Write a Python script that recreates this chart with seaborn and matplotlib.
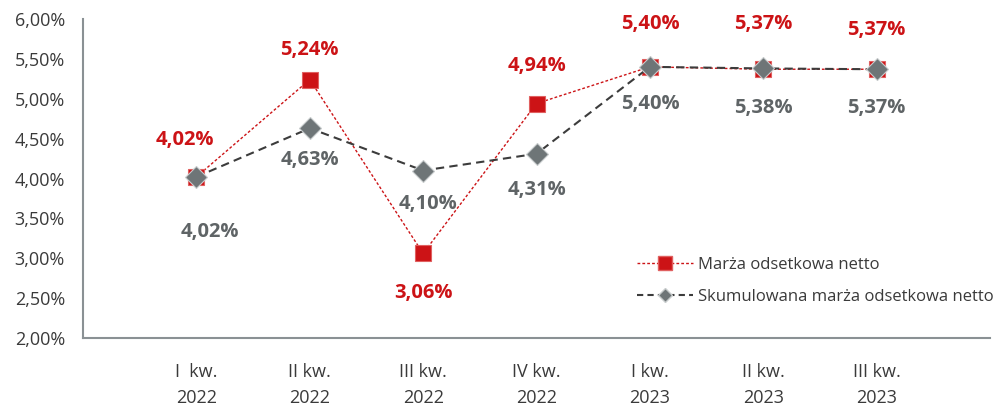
import matplotlib
matplotlib.use("Agg")
import matplotlib.pyplot as plt
import seaborn as sns
import pandas as pd
from matplotlib.lines import Line2D

categories = ["I  kw.\n2022", "II kw.\n2022", "III kw.\n2022", "IV kw.\n2022",
              "I kw.\n2023", "II kw.\n2023", "III kw.\n2023"]
marza = [4.02, 5.24, 3.06, 4.94, 5.40, 5.37, 5.37]
skumulowana = [4.02, 4.63, 4.10, 4.31, 5.40, 5.38, 5.37]
marza_labels = ["4,02%", "5,24%", "3,06%", "4,94%", "5,40%", "5,37%", "5,37%"]
skum_labels = ["4,02%", "4,63%", "4,10%", "4,31%", "5,40%", "5,38%", "5,37%"]
series_names = ["Marża odsetkowa netto", "Skumulowana marża odsetkowa netto"]
yticks = [2.0, 2.5, 3.0, 3.5, 4.0, 4.5, 5.0, 5.5, 6.0]

# label placement offsets (data units)
marza_off = [(-0.10, 0.46), (0.0, 0.37), (0.0, -0.50), (0.0, 0.47), (0.0, 0.54), (0.0, 0.57), (0.0, 0.49)]
skum_off = [(0.12, -0.69), (0.0, -0.40), (0.04, -0.42), (0.0, -0.45), (0.0, -0.47), (0.0, -0.50), (0.0, -0.49)]

sns.set_style("white")
plt.rcParams["font.family"] = ["Open Sans", "DejaVu Sans"]

RED = "#CC1316"
GREY_M = "#6E7577"
GREY_L = "#3C3C3C"
AX = "#8A9194"
TXT = "#3A3A3A"

fig = plt.figure(figsize=(9.97, 4.05), dpi=100)
ax = fig.add_axes([83/997, 67/405, 907/997, 319/405])

x = list(range(1, len(categories) + 1))
df = pd.DataFrame({"x": x, "marza": marza, "skum": skumulowana})

sns.lineplot(data=df, x="x", y="marza", ax=ax, color=RED, linewidth=1.0,
             linestyle=(0, (2.0, 1.5)), marker="s", markersize=11,
             markerfacecolor=RED, markeredgecolor="#E06060", markeredgewidth=0.8, zorder=3)
sns.lineplot(data=df, x="x", y="skum", ax=ax, color=GREY_L, linewidth=1.5,
             linestyle=(0, (4, 2.5)), marker="D", markersize=11,
             markerfacecolor=GREY_M, markeredgecolor="#C8CCCD", markeredgewidth=0.8, zorder=4)

for xi, v, lab, (dx, dy) in zip(x, marza, marza_labels, marza_off):
    ax.text(xi + dx, v + dy, lab, color=RED, fontsize=14.5, fontweight="bold",
            ha="center", va="center")
for xi, v, lab, (dx, dy) in zip(x, skumulowana, skum_labels, skum_off):
    ax.text(xi + dx, v + dy, lab, color="#5F6466", fontsize=14.5, fontweight="bold",
            ha="center", va="center")

ax.set_xlim(0, len(categories) + 1)
ax.set_ylim(2.0, 6.0)
ax.set_xticks(range(0, len(categories) + 2))
ax.set_xticklabels([""] + categories + [""], fontsize=13, color=TXT, linespacing=1.55)
ax.set_yticks(yticks)
ax.set_yticklabels([f"{t:.2f}%".replace(".", ",") for t in yticks], fontsize=13, color=TXT)
ax.set_xlabel("")
ax.set_ylabel("")

for s in ["top", "right"]:
    ax.spines[s].set_visible(False)
for s in ["left", "bottom"]:
    ax.spines[s].set_color(AX)
    ax.spines[s].set_linewidth(1.5)
ax.tick_params(axis="y", direction="out", length=6, width=1.2, color=AX, pad=7)
ax.tick_params(axis="x", direction="inout", length=12, width=1.2, color=AX, pad=12)

handles = [
    Line2D([], [], color=RED, linewidth=1.0, linestyle=(0, (2.0, 1.5)), marker="s",
           markersize=10, markerfacecolor=RED, markeredgecolor="#E06060"),
    Line2D([], [], color=GREY_L, linewidth=1.5, linestyle=(0, (3, 2)), marker="D",
           markersize=7, markerfacecolor=GREY_M, markeredgecolor="#C8CCCD"),
]
leg = ax.legend(handles, series_names, loc="upper left", bbox_to_anchor=(0.603, 0.275),
                frameon=False, fontsize=12, handlelength=3.4, handletextpad=0.3,
                labelspacing=0.95, borderaxespad=0)
for t in leg.get_texts():
    t.set_color(TXT)

fig.savefig("out.png", dpi=100)
